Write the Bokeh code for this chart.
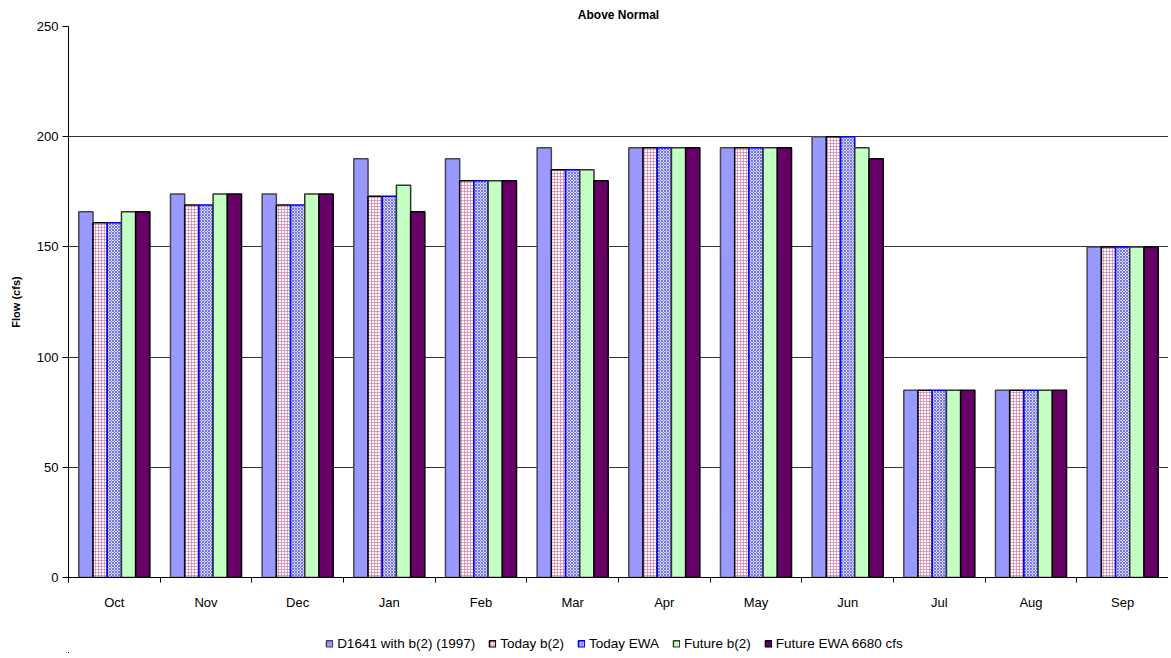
import numpy as np
from bokeh.plotting import figure
from bokeh.models import FixedTicker, Legend, LegendItem, Range1d
from bokeh.layouts import column
from bokeh.embed import file_html
from bokeh.resources import INLINE

months = ["Oct", "Nov", "Dec", "Jan", "Feb", "Mar", "Apr", "May", "Jun", "Jul", "Aug", "Sep"]
d1641 = [166, 174, 174, 190, 190, 195, 195, 195, 200, 85, 85, 150]
today_b2 = [161, 169, 169, 173, 180, 185, 195, 195, 200, 85, 85, 150]
today_ewa = [161, 169, 169, 173, 180, 185, 195, 195, 200, 85, 85, 150]
future_b2 = [166, 174, 174, 178, 180, 185, 195, 195, 195, 85, 85, 150]
future_ewa = [166, 174, 174, 166, 180, 180, 195, 195, 190, 85, 85, 150]
series_names = ["D1641 with b(2) (1997)", "Today b(2)", "Today EWA", "Future b(2)", "Future EWA 6680 cfs"]
y_ticks = [0, 50, 100, 150, 200, 250]

FONT = "Liberation Sans"

p = figure(frame_width=1100, frame_height=551, output_backend="svg", toolbar_location=None,
           x_range=Range1d(0, 12), y_range=Range1d(0, 250),
           min_border_left=68, min_border_right=0, min_border_top=0, min_border_bottom=56,
           title="Above Normal")
p.title.align = "center"
p.title.text_font = FONT
p.title.text_font_size = "12px"
p.title.text_font_style = "bold"
p.title.text_color = "black"
p.title.offset = 0
p.outline_line_color = None
p.background_fill_color = "white"

centers = np.arange(len(months)) + 0.5
bw = 0.155
offsets = [-2 * bw, -bw, 0, bw, 2 * bw]
styles = [
    dict(fill_color="#9999FF", line_color="#444455"),
    dict(fill_color="white", line_color="black", hatch_pattern="+", hatch_color="#CC6699",
         hatch_scale=3, hatch_weight=0.6),
    dict(fill_color="#D8D8FF", line_color="#0000FF", hatch_pattern="x", hatch_color="#3333CC",
         hatch_scale=3, hatch_weight=0.6),
    dict(fill_color="#C4FFC4", line_color="#333333"),
    dict(fill_color="#660066", line_color="black"),
]
data = [d1641, today_b2, today_ewa, future_b2, future_ewa]
for vals, off, st in zip(data, offsets, styles):
    p.vbar(x=centers + off, top=vals, bottom=0, width=bw, line_width=1.5, **st)

# axes
p.xaxis.ticker = FixedTicker(ticks=list(centers), minor_ticks=list(range(13)))
p.xaxis.major_label_overrides = {float(c): m for c, m in zip(centers, months)}
p.xaxis.major_tick_out = 0
p.xaxis.major_tick_in = 0
p.xaxis.minor_tick_out = 5
p.xaxis.minor_tick_in = 0
p.xaxis.minor_tick_line_color = "black"
p.xaxis.axis_line_color = "black"
p.xaxis.major_label_text_font = FONT
p.xaxis.major_label_text_font_size = "13px"
p.xaxis.major_label_text_color = "black"
p.xaxis.major_label_standoff = 12

p.yaxis.ticker = FixedTicker(ticks=y_ticks, minor_ticks=[])
p.yaxis.axis_label = "Flow (cfs)"
p.yaxis.axis_label_text_font = FONT
p.yaxis.axis_label_text_font_size = "11px"
p.yaxis.axis_label_text_font_style = "bold"
p.yaxis.axis_label_text_color = "black"
p.yaxis.axis_label_standoff = 12
p.yaxis.major_label_text_font = FONT
p.yaxis.major_label_text_font_size = "13px"
p.yaxis.major_label_text_color = "black"
p.yaxis.major_tick_out = 6
p.yaxis.major_tick_in = 0
p.yaxis.major_tick_line_color = "black"
p.yaxis.axis_line_color = "black"
p.yaxis.major_label_standoff = 4

p.xgrid.grid_line_color = None
p.ygrid.grid_line_color = "#333333"
p.ygrid.grid_line_width = 1

# legend in its own strip below the chart; its renderers carry the series styles
# but lie far outside that strip's visible ranges, so only the legend shows
lf = figure(width=1160, height=20, output_backend="svg", toolbar_location=None,
            x_range=Range1d(1000, 1001), y_range=Range1d(5000, 5001),
            min_border=0, outline_line_color=None)
lf.axis.visible = False
lf.grid.visible = False
items = []
for vals, st, name in zip(data, styles, series_names):
    r = lf.vbar(x=centers, top=vals, bottom=0, width=bw, line_width=1.5, **st)
    items.append(LegendItem(label=name, renderers=[r]))
legend = Legend(items=items, orientation="horizontal", location="center",
                label_text_font=FONT, label_text_font_size="13.5px", label_text_color="black",
                glyph_width=8, glyph_height=8, label_standoff=4, spacing=13,
                border_line_color=None, background_fill_alpha=0,
                padding=2, margin=0, label_height=12)
lf.add_layout(legend, "center")

layout = column(p, lf, spacing=0)
open("out.html", "w").write(file_html(layout, INLINE))
